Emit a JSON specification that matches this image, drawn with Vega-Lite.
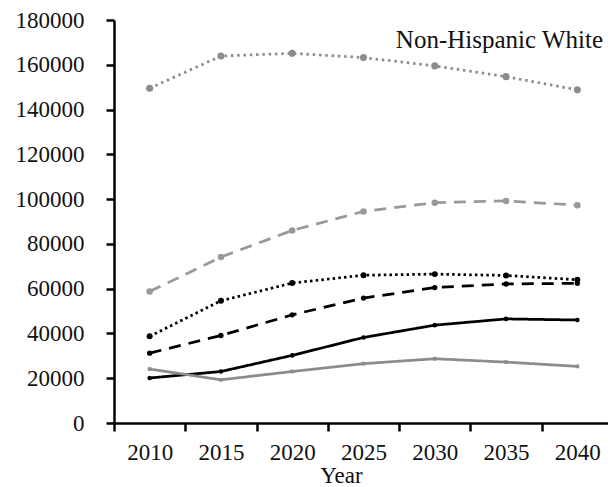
{
  "$schema": "https://vega.github.io/schema/vega-lite/v6.json",
  "width": 494,
  "height": 403,
  "autosize": {"type": "none"},
  "padding": {"left": 114, "top": 20, "right": 0, "bottom": 64},
  "background": "white",
  "config": {"view": {"stroke": null}, "font": "Liberation Serif"},
  "title": {
    "text": "Non-Hispanic White",
    "anchor": "end",
    "orient": "top",
    "frame": "group",
    "offset": -64,
    "baseline": "alphabetic",
    "dx": -5,
    "font": "Liberation Serif",
    "fontSize": 25,
    "fontWeight": "normal",
    "color": "#111111"
  },
  "data": {
    "values": [
      {"series": "Non-Hispanic White", "year": "2010", "pop": 149500},
      {"series": "Non-Hispanic White", "year": "2015", "pop": 163900},
      {"series": "Non-Hispanic White", "year": "2020", "pop": 165100},
      {"series": "Non-Hispanic White", "year": "2025", "pop": 163200},
      {"series": "Non-Hispanic White", "year": "2030", "pop": 159500},
      {"series": "Non-Hispanic White", "year": "2035", "pop": 154700},
      {"series": "Non-Hispanic White", "year": "2040", "pop": 148800},
      {"series": "Group 2", "year": "2010", "pop": 58700},
      {"series": "Group 2", "year": "2015", "pop": 74100},
      {"series": "Group 2", "year": "2020", "pop": 86000},
      {"series": "Group 2", "year": "2025", "pop": 94500},
      {"series": "Group 2", "year": "2030", "pop": 98400},
      {"series": "Group 2", "year": "2035", "pop": 99200},
      {"series": "Group 2", "year": "2040", "pop": 97300},
      {"series": "Group 3", "year": "2010", "pop": 38700},
      {"series": "Group 3", "year": "2015", "pop": 54600},
      {"series": "Group 3", "year": "2020", "pop": 62500},
      {"series": "Group 3", "year": "2025", "pop": 66000},
      {"series": "Group 3", "year": "2030", "pop": 66500},
      {"series": "Group 3", "year": "2035", "pop": 65900},
      {"series": "Group 3", "year": "2040", "pop": 64000},
      {"series": "Group 4", "year": "2010", "pop": 31200},
      {"series": "Group 4", "year": "2015", "pop": 39100},
      {"series": "Group 4", "year": "2020", "pop": 48300},
      {"series": "Group 4", "year": "2025", "pop": 55800},
      {"series": "Group 4", "year": "2030", "pop": 60500},
      {"series": "Group 4", "year": "2035", "pop": 62100},
      {"series": "Group 4", "year": "2040", "pop": 62400},
      {"series": "Group 5", "year": "2010", "pop": 20100},
      {"series": "Group 5", "year": "2015", "pop": 23000},
      {"series": "Group 5", "year": "2020", "pop": 30200},
      {"series": "Group 5", "year": "2025", "pop": 38200},
      {"series": "Group 5", "year": "2030", "pop": 43700},
      {"series": "Group 5", "year": "2035", "pop": 46500},
      {"series": "Group 5", "year": "2040", "pop": 46000},
      {"series": "Group 6", "year": "2010", "pop": 24100},
      {"series": "Group 6", "year": "2015", "pop": 19300},
      {"series": "Group 6", "year": "2020", "pop": 23000},
      {"series": "Group 6", "year": "2025", "pop": 26500},
      {"series": "Group 6", "year": "2030", "pop": 28700},
      {"series": "Group 6", "year": "2035", "pop": 27200},
      {"series": "Group 6", "year": "2040", "pop": 25300}
    ]
  },
  "encoding": {
    "x": {
      "field": "year",
      "type": "ordinal",
      "bandPosition": 0.5,
      "scale": {"type": "band", "range": [0, 499], "paddingInner": 0, "paddingOuter": 0},
      "axis": {
        "tickBand": "extent",
        "labelAngle": 0,
        "labelFont": "Liberation Serif",
        "labelFontSize": 23,
        "labelColor": "#111111",
        "labelPadding": 10,
        "domainColor": "#000000",
        "domainWidth": 2.5,
        "tickColor": "#000000",
        "tickWidth": 2.5,
        "tickSize": 8,
        "title": "Year",
        "titleFont": "Liberation Serif",
        "titleFontSize": 23,
        "titleFontWeight": "normal",
        "titleColor": "#111111",
        "titleX": 227,
        "titleY": 59,
        "titleAlign": "center",
        "titleBaseline": "alphabetic",
        "encode": {"ticks": {"update": {"y": {"value": -5}}}}
      }
    },
    "y": {
      "field": "pop",
      "type": "quantitative",
      "scale": {"domain": [0, 180000], "nice": false},
      "axis": {
        "values": [0, 20000, 40000, 60000, 80000, 100000, 120000, 140000, 160000, 180000],
        "format": "d",
        "grid": false,
        "labelFont": "Liberation Serif",
        "labelFontSize": 23,
        "labelColor": "#111111",
        "labelPadding": 22,
        "labelOverlap": false,
        "labelFlush": false,
        "domainColor": "#000000",
        "domainWidth": 2.5,
        "tickColor": "#000000",
        "tickWidth": 2.5,
        "tickSize": 8,
        "title": null,
        "encode": {"ticks": {"update": {"x": {"value": 7}}}}
      }
    },
    "color": {
      "field": "series",
      "type": "nominal",
      "legend": null,
      "scale": {
        "domain": ["Non-Hispanic White", "Group 2", "Group 3", "Group 4", "Group 5", "Group 6"],
        "range": ["#8c8c8c", "#999999", "#000000", "#000000", "#000000", "#8c8c8c"]
      }
    }
  },
  "layer": [
    {
      "mark": {"type": "line", "strokeWidth": 2.75},
      "encoding": {
        "strokeDash": {
          "field": "series",
          "type": "nominal",
          "legend": null,
          "scale": {
            "domain": ["Non-Hispanic White", "Group 2", "Group 3", "Group 4", "Group 5", "Group 6"],
            "range": [[2.5, 3.8], [12, 8], [2.5, 3.2], [12, 8], [1, 0], [1, 0]]
          }
        }
      }
    },
    {
      "mark": {"type": "point", "filled": true, "opacity": 1},
      "encoding": {
        "shape": {
          "field": "series",
          "type": "nominal",
          "legend": null,
          "scale": {
            "domain": ["Non-Hispanic White", "Group 2", "Group 3", "Group 4", "Group 5", "Group 6"],
            "range": ["circle", "circle", "circle", "circle", "circle", "square"]
          }
        },
        "size": {
          "field": "series",
          "type": "nominal",
          "legend": null,
          "scale": {
            "domain": ["Non-Hispanic White", "Group 2", "Group 3", "Group 4", "Group 5", "Group 6"],
            "range": [50, 14, 60, 18, 64, 60]
          }
        }
      }
    }
  ]
}
